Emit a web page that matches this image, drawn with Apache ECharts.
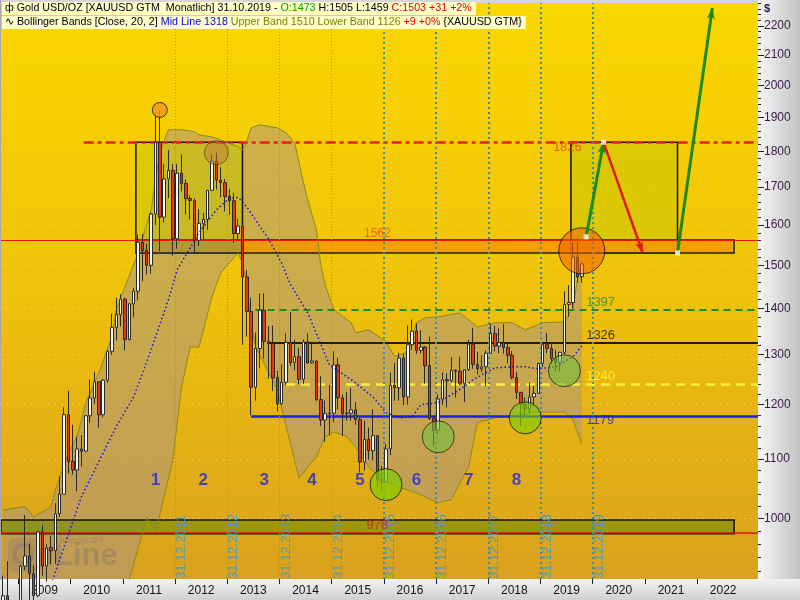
<!DOCTYPE html>
<html><head><meta charset="utf-8">
<script src="https://cdn.jsdelivr.net/npm/echarts@6/dist/echarts.min.js"></script>
<style>
html,body{margin:0;padding:0;}
#wrap{position:relative;width:800px;height:600px;background:#d6d6d6;overflow:hidden;}
#rp{position:absolute;left:758px;top:0;width:42px;height:580px;background:linear-gradient(to right,#f6f6f6,#c2c2c2);}
#bp{position:absolute;left:0;top:579px;width:800px;height:21px;background:linear-gradient(to bottom,#f2f2f2,#d0d0d0);}
#chart{position:absolute;left:0;top:0;width:800px;height:600px;}
</style></head><body>
<div id="wrap"><div id="rp"></div><div id="bp"></div><div id="chart"></div></div>
<script>
// ---------- categories ----------
const firstYear = 2008, firstMonth = 9, monthCount = 174;
const months = [];
for (let i = 0; i < monthCount; i++) {
  const t = firstYear * 12 + (firstMonth - 1) + i;
  months.push(Math.floor(t / 12) + '-' + String(t % 12 + 1).padStart(2, '0'));
}
const at = m => months.indexOf(m) + 0.5;   // month centre
const edge = m => months.indexOf(m);       // month start

// ---------- monthly OHLC  [open, close, low, high] ----------
const ohlc2008 = [[833,884,736,913],[884,718,681,934],[718,816,705,833],[816,869,741,883]];
const ohlc2009 = [[869,927,801,928],[927,942,921,1006],[942,916,866,961],[916,884,865,928],[884,979,882,981],[979,927,913,990],[927,954,904,960],[955,950,930,973],[950,1008,930,1025],[1008,1040,1003,1070],[1040,1181,1040,1195],[1181,1096,1075,1227]];
const ohlc2010 = [[1096,1081,1073,1162],[1081,1118,1045,1140],[1118,1114,1087,1143],[1114,1179,1113,1180],[1179,1213,1166,1249],[1213,1245,1201,1265],[1245,1181,1157,1245],[1181,1248,1176,1250],[1248,1307,1243,1310],[1307,1358,1300,1388],[1358,1386,1330,1424],[1386,1421,1360,1432]];
const ohlc2011 = [[1421,1332,1309,1424],[1332,1410,1329,1412],[1410,1439,1380,1447],[1439,1556,1418,1575],[1556,1536,1462,1577],[1536,1500,1478,1553],[1500,1628,1480,1632],[1628,1826,1600,1913],[1826,1620,1534,1921],[1620,1722,1606,1764],[1722,1746,1670,1804],[1746,1565,1523,1763]];
const ohlc2012 = [[1565,1738,1540,1764],[1738,1710,1688,1791],[1710,1669,1627,1721],[1669,1664,1614,1677],[1664,1561,1527,1669],[1561,1604,1547,1641],[1604,1614,1564,1631],[1614,1691,1587,1692],[1691,1772,1689,1790],[1772,1719,1693,1796],[1719,1712,1672,1755],[1712,1675,1635,1722]];
const ohlc2013 = [[1675,1663,1626,1694],[1663,1578,1555,1685],[1578,1597,1562,1616],[1597,1472,1321,1604],[1472,1393,1338,1488],[1393,1234,1180,1424],[1234,1313,1208,1347],[1313,1396,1272,1433],[1396,1328,1292,1434],[1328,1323,1251,1361],[1323,1253,1227,1362],[1253,1202,1187,1267]];
const ohlc2014 = [[1202,1244,1200,1280],[1244,1326,1238,1345],[1326,1284,1277,1392],[1284,1296,1268,1331],[1296,1250,1240,1315],[1250,1327,1240,1332],[1327,1283,1282,1345],[1283,1287,1281,1325],[1287,1210,1207,1288],[1210,1171,1160,1256],[1171,1183,1131,1208],[1183,1184,1142,1238]];
const ohlc2015 = [[1184,1279,1167,1307],[1279,1213,1191,1294],[1213,1183,1142,1220],[1183,1184,1170,1224],[1184,1190,1170,1232],[1190,1172,1162,1205],[1172,1095,1077,1175],[1095,1135,1080,1170],[1135,1115,1099,1157],[1115,1142,1098,1191],[1142,1065,1052,1142],[1065,1061,1046,1088]];
const ohlc2016 = [[1061,1118,1061,1127],[1118,1238,1107,1263],[1238,1233,1208,1283],[1233,1293,1208,1304],[1293,1215,1199,1303],[1215,1321,1200,1362],[1321,1350,1310,1375],[1350,1309,1302,1367],[1309,1316,1303,1352],[1316,1277,1241,1318],[1277,1174,1171,1338],[1174,1152,1123,1180]];
const ohlc2017 = [[1152,1211,1146,1220],[1211,1249,1200,1264],[1249,1247,1195,1262],[1247,1268,1244,1295],[1268,1266,1214,1270],[1266,1242,1238,1296],[1242,1269,1205,1270],[1269,1322,1267,1331],[1322,1280,1271,1357],[1280,1271,1260,1306],[1271,1275,1264,1299],[1275,1303,1236,1309]];
const ohlc2018 = [[1303,1345,1303,1366],[1345,1318,1307,1362],[1318,1325,1303,1356],[1325,1315,1302,1365],[1315,1299,1282,1326],[1299,1253,1250,1308],[1253,1224,1211,1265],[1224,1201,1160,1224],[1201,1192,1180,1214],[1192,1215,1182,1243],[1215,1222,1196,1237],[1222,1282,1221,1284]];
const ohlc2019 = [[1282,1321,1275,1326],[1321,1313,1303,1346],[1313,1292,1281,1324],[1292,1284,1266,1310],[1284,1305,1266,1306],[1305,1409,1301,1439],[1409,1413,1381,1453],[1413,1520,1400,1555],[1520,1472,1459,1557],[1473,1503,1459,1505]];
const candles = [].concat(ohlc2008, ohlc2009, ohlc2010, ohlc2011, ohlc2012, ohlc2013, ohlc2014, ohlc2015, ohlc2016, ohlc2017, ohlc2018, ohlc2019);

// ---------- Bollinger bands ----------
const upperMonths = ['2008-09','2009-02','2009-04','2009-08','2009-09','2009-12','2010-02','2010-04','2010-07','2010-10','2010-11','2011-01','2011-04','2011-07','2011-09','2011-11','2012-02','2012-05','2012-06','2012-09','2012-11','2013-03','2013-04','2013-05','2013-06','2013-08','2013-12','2014-02','2014-04','2014-06','2014-07','2014-09','2014-10','2014-11','2015-01','2015-05','2015-06','2015-09','2016-01','2016-03','2016-06','2016-08','2016-10','2017-01','2017-06','2017-10','2018-02','2018-06','2018-09','2019-01','2019-06','2019-08','2019-09','2019-10'];
const upperBand = [1014,1020,1003,1019,1047,1111,1140,1204,1263,1338,1397,1449,1530,1639,1796,1863,1863,1857,1848,1842,1833,1813,1804,1830,1869,1878,1869,1854,1825,1713,1665,1587,1501,1454,1397,1368,1346,1353,1327,1296,1306,1368,1379,1381,1390,1359,1368,1368,1353,1368,1370,1402,1466,1510];
const midMonths = ['2008-09','2009-03','2009-08','2010-03','2010-11','2011-03','2011-07','2011-11','2012-01','2012-06','2012-10','2013-01','2013-03','2013-05','2013-08','2013-10','2014-01','2014-03','2014-07','2014-12','2015-05','2015-10','2016-01','2016-04','2016-07','2016-09','2017-01','2017-07','2017-09','2018-02','2018-06','2018-09','2018-12','2019-04','2019-08','2019-10'];
const midBand = [800,850,900,1036,1159,1215,1310,1420,1489,1580,1639,1670,1672,1647,1596,1565,1505,1455,1390,1279,1249,1215,1185,1175,1177,1200,1204,1235,1249,1273,1275,1275,1271,1275,1296,1318];
const lowerMonths = ['2008-09','2009-06','2010-01','2010-09','2011-01','2011-02','2011-06','2011-08','2011-09','2011-12','2012-02','2012-04','2012-06','2012-09','2012-11','2013-01','2013-03','2013-04','2013-05','2013-06','2013-07','2013-12','2014-02','2014-05','2014-09','2014-11','2015-01','2015-04','2015-06','2015-09','2015-12','2016-04','2016-08','2017-01','2017-04','2017-08','2017-10','2018-02','2018-08','2018-12','2019-06','2019-08','2019-10'];
const lowerBand = [760,760,800,860,895,907,1002,979,1006,1099,1235,1316,1316,1426,1482,1506,1530,1505,1456,1363,1317,1229,1160,1067,1104,1140,1149,1140,1122,1087,1064,1052,1042,1026,1031,1087,1166,1175,1181,1186,1186,1171,1126];

// ---------- axis ticks ----------
const priceTicks = [1000,1100,1200,1300,1400,1500,1600,1700,1800,1900,2000,2100,2200];
const minorPriceTicks = [];
for (let v = 920; v <= 2280; v += 20) if (v % 100 !== 0) minorPriceTicks.push(v);
const yearLabels = ['2009','2010','2011','2012','2013','2014','2015','2016','2017','2018','2019','2020','2021','2022'];
const yearStarts = yearLabels.map(y => edge(y + '-01'));
const yearMids = yearLabels.map(y => edge(y + '-07'));
const yearEnds = ['2011','2012','2013','2014','2015','2016','2017','2018','2019'];

// ---------- annotation levels ----------
const levelTop = 1826, level1562 = 1562, levelBoxLow = 1530, level1397 = 1397, level1326 = 1326, level1240 = 1240, level1179 = 1179, level978 = 978, levelOliveTop = 998, levelOliveLow = 976;
const regionNames = ['1','2','3','4','5','6','7','8'];
const regionMonths = ['2011-08','2012-07','2013-09','2014-08','2015-07','2016-08','2017-08','2018-07'];
const regionPrice = 1064;

const END = monthCount;
const txt = (x, y, text, st) => ({ value: [x, y], label: Object.assign({ show: true, formatter: text, position: 'inside', fontFamily: 'Liberation Sans' }, st) });
const hl = (x1, x2, y, ls) => [{ coord: [x1, y], lineStyle: ls }, { coord: [x2, y], lineStyle: ls }];

const chart = echarts.init(document.getElementById('chart'), null, { renderer: 'canvas' });
const F = 'Liberation Sans';
const HF = 10.7;
const option = {
  animation: false,
  backgroundColor: 'transparent',
  title: [
    { left: 2, top: 2, padding: [1, 4, 1, 3], backgroundColor: '#FFFFC8',
      text: '{i|ф} {k|Gold USD/OZ [XAUUSD GTM  Monatlich] 31.10.2019 - }{g|O:1473 }{k|H:1505 L:1459 }{r|C:1503 +31 +2%}',
      textStyle: { fontSize: HF, fontFamily: F, fontWeight: 'normal', color: '#000',
        rich: { i: { fontSize: HF, color: '#000' }, k: { fontSize: HF, color: '#000', fontFamily: F }, g: { fontSize: HF, color: '#00A000', fontFamily: F }, r: { fontSize: HF, color: '#E80000', fontFamily: F } } } },
    { left: 2, top: 16, padding: [1, 4, 1, 3], backgroundColor: '#FFFFC8',
      text: '{i|∿} {k|Bollinger Bands [Close, 20, 2] }{b|Mid Line 1318 }{o|Upper Band 1510 Lower Band 1126 }{r|+9 +0% }{XAUUSD GTM}',
      textStyle: { fontSize: HF, fontFamily: F, fontWeight: 'normal', color: '#000',
        rich: { i: { fontSize: HF, color: '#000' }, k: { fontSize: HF, color: '#000', fontFamily: F }, b: { fontSize: HF, color: '#0000E0', fontFamily: F }, o: { fontSize: HF, color: '#808000', fontFamily: F }, r: { fontSize: HF, color: '#E80000', fontFamily: F } } } }
  ],
  grid: { left: 1, top: 3, right: 42, bottom: 21, show: true, borderWidth: 0,
    backgroundColor: new echarts.graphic.LinearGradient(0, 0, 0, 1, [
      { offset: 0, color: '#FAD700' }, { offset: 0.5, color: '#EFC20A' }, { offset: 1, color: '#D9A11E' }]) },
  graphic: [
    { type: 'text', left: 764, top: 3, z: 10, style: { text: '$', font: 'bold 11px Liberation Sans', fill: '#2A1850' } },
    { type: 'rect', left: 0, top: 0, z: 10, shape: { width: 1, height: 580 }, style: { fill: '#A8A8A8' } },
    { type: 'group', left: 8, top: 536, z: 1, children: [
      { type: 'rect', shape: { x: 0, y: 6, width: 34, height: 34, r: 7 }, style: { fill: 'rgba(105,90,60,0.28)' } },
      { type: 'text', style: { text: 'OnLine', x: 3, y: 24, font: 'bold 31px Liberation Sans', fill: 'rgba(100,85,60,0.42)', verticalAlign: 'middle' } },
      { type: 'text', style: { text: 'tradesignal®', x: 46, y: 4, font: '9px Liberation Sans', fill: 'rgba(100,85,60,0.55)' } }
    ] }
  ],
  xAxis: [
    { type: 'category', data: months, show: false, boundaryGap: true, axisLine: { onZero: false } },
    { type: 'value', min: 0, max: monthCount, position: 'bottom',
      axisLine: { show: false, onZero: false }, splitLine: { show: false },
      axisTick: { show: true, customValues: yearStarts, length: 5, lineStyle: { color: '#222' } },
      axisLabel: { customValues: yearMids, formatter: v => yearLabels[yearMids.indexOf(v)] || '', color: '#111', fontSize: 12, fontFamily: F, margin: 6 } }
  ],
  yAxis: [
    { type: 'log', logBase: 10, min: 908, max: 2282, position: 'right',
      axisLine: { show: false, onZero: false },
      axisTick: { show: true, customValues: priceTicks, length: 6, lineStyle: { color: '#222' } },
      axisLabel: { customValues: priceTicks, formatter: v => String(Math.round(v)), color: '#3A1A48', fontSize: 12, fontFamily: F, margin: 6 },
      splitLine: { show: true, lineStyle: { color: 'rgba(215,215,215,0.9)', type: [1, 5], width: 1 } } },
    { type: 'log', logBase: 10, min: 908, max: 2282, position: 'right', offset: 0,
      axisLine: { show: false, onZero: false }, axisLabel: { show: false }, splitLine: { show: false },
      axisTick: { show: true, customValues: minorPriceTicks, length: 3, lineStyle: { color: '#222' } } }
  ],
  series: [
    // Bollinger band fill
    { type: 'custom', xAxisIndex: 1, yAxisIndex: 0, z: 0, clip: true, silent: true, data: [[0, 1000]],
      renderItem: (params, api) => {
        const pts = [];
        upperMonths.forEach((m, i) => pts.push(api.coord([at(m), upperBand[i]])));
        for (let i = lowerMonths.length - 1; i >= 0; i--) pts.push(api.coord([at(lowerMonths[i]), lowerBand[i]]));
        return { type: 'polygon', shape: { points: pts }, style: { fill: 'rgba(165,148,140,0.5)' } };
      } },
    // level lines under the boxes
    { type: 'line', xAxisIndex: 1, yAxisIndex: 0, data: [], z: 1, silent: true,
      markLine: { silent: true, symbol: ['none', 'none'], z: 1, label: { show: false }, animation: false,
        data: [
          hl(0, END, level1562, { color: '#F01010', width: 1, type: 'solid' }),
          hl(0, END, level978, { color: '#D01818', width: 1.5, type: 'solid' })
        ] } },
    // boxes
    { type: 'line', xAxisIndex: 1, yAxisIndex: 0, data: [], z: 1, silent: true,
      markArea: { silent: true, z: 1, label: { show: false },
        data: [
          [{ coord: [0, levelOliveTop], itemStyle: { color: 'rgba(120,138,0,0.62)', borderColor: '#111', borderWidth: 1.5 } }, { coord: [at('2022-09'), levelOliveLow] }],
          [{ coord: [edge('2011-04'), levelTop], itemStyle: { color: 'rgba(200,198,0,0.5)', borderColor: '#111', borderWidth: 1.5 } }, { coord: [at('2013-04'), levelBoxLow] }],
          [{ coord: [edge('2019-08'), levelTop], itemStyle: { color: 'rgba(200,198,0,0.55)', borderColor: '#111', borderWidth: 1.5 } }, { coord: [at('2021-08'), levelBoxLow] }],
          [{ coord: [edge('2011-04'), level1562], itemStyle: { color: 'rgba(150,110,70,0.45)', borderColor: '#333', borderWidth: 1.5 } }, { coord: [at('2013-04'), levelBoxLow] }],
          [{ coord: [at('2013-04'), level1562], itemStyle: { color: 'rgba(246,148,0,0.78)', borderColor: '#222', borderWidth: 1.5 } }, { coord: [at('2022-09'), levelBoxLow] }]
        ] } },
    // band border lines
    { type: 'line', xAxisIndex: 1, yAxisIndex: 0, z: 1, silent: true, symbol: 'none', showSymbol: false,
      data: upperMonths.map((m, i) => [at(m), upperBand[i]]), lineStyle: { color: '#8C8A18', width: 1 } },
    { type: 'line', xAxisIndex: 1, yAxisIndex: 0, z: 1, silent: true, symbol: 'none', showSymbol: false,
      data: lowerMonths.map((m, i) => [at(m), lowerBand[i]]), lineStyle: { color: '#8C8A18', width: 1 } },
    // horizontal levels and year-end markers
    { type: 'line', xAxisIndex: 1, yAxisIndex: 0, data: [], z: 2, silent: true,
      markLine: { silent: true, symbol: ['none', 'none'], z: 2, animation: false,
        label: { show: false },
        data: [
          hl(edge('2010-04'), END, levelTop, { color: '#E8201A', width: 2.5, type: [10, 4, 4, 4] }),
          hl(at('2013-07'), END, level1397, { color: '#1F8A1F', width: 2, type: [7, 5] }),
          hl(at('2013-10'), END, level1326, { color: '#1E1E1E', width: 2, type: 'solid' }),
          hl(at('2014-02'), END, level1240, { color: '#F8F040', width: 2.5, type: [9, 6] }),
          hl(at('2013-06'), END, level1179, { color: '#1E1EE6', width: 2.5, type: 'solid' })
        ].concat(yearEnds.map(y => ({
          xAxis: edge((+y + 1) + '-01'),
          lineStyle: +y <= 2014 ? { color: '#6E9BAA', width: 1, type: [1, 2] } : { color: '#3C8CAA', width: 2, type: [2, 3] },
          label: { show: true, formatter: '31.12.' + y, position: 'insideStartBottom', distance: 0, color: '#4E9DB4', fontSize: 13, fontFamily: F }
        }))) } },
    // candles
    { type: 'candlestick', xAxisIndex: 0, yAxisIndex: 0, z: 3, data: candles, barWidth: 3, silent: true,
      itemStyle: { color: '#F6F6EE', color0: '#E8361C', borderColor: '#2A2A2A', borderColor0: '#2A2A2A', borderWidth: 1 } },
    // mid line
    { type: 'line', xAxisIndex: 1, yAxisIndex: 0, z: 4, silent: true, symbol: 'none', showSymbol: false,
      data: midMonths.map((m, i) => [at(m), midBand[i]]), lineStyle: { color: '#1010F0', width: 1.5, type: [1.5, 2.5] } },
    // circles
    { type: 'scatter', xAxisIndex: 1, yAxisIndex: 0, z: 5, silent: true,
      data: [
        { value: [at('2011-09'), 1923], symbolSize: 15, itemStyle: { color: '#F7941D', borderColor: '#111', borderWidth: 1 } },
        { value: [at('2012-10'), 1796], symbolSize: 24, itemStyle: { color: 'rgba(192,122,62,0.62)', borderColor: 'rgba(60,40,20,0.7)', borderWidth: 1 } },
        { value: [at('2019-10'), 1535], symbolSize: 46, itemStyle: { color: 'rgba(240,100,0,0.72)', borderColor: '#111', borderWidth: 1 } },
        { value: [at('2016-01'), 1056], symbolSize: 32, itemStyle: { color: 'rgba(125,205,0,0.85)', borderColor: '#111', borderWidth: 1 } },
        { value: [at('2017-01'), 1140], symbolSize: 32, itemStyle: { color: 'rgba(115,190,60,0.72)', borderColor: '#222', borderWidth: 1 } },
        { value: [at('2018-09'), 1175], symbolSize: 32, itemStyle: { color: 'rgba(125,205,0,0.8)', borderColor: '#111', borderWidth: 1 } },
        { value: [at('2019-06'), 1267], symbolSize: 32, itemStyle: { color: 'rgba(115,190,60,0.72)', borderColor: '#222', borderWidth: 1 } }
      ] },
    // arrows
    { type: 'line', xAxisIndex: 1, yAxisIndex: 0, data: [], z: 6, silent: true,
      markLine: { silent: true, symbol: ['none', 'arrow'], symbolSize: [6, 11], z: 6, animation: false, label: { show: false },
        data: [
          [{ coord: [at('2019-11'), 1570], lineStyle: { color: '#1B8A1B', width: 3, type: 'solid' } }, { coord: [at('2020-03'), levelTop], lineStyle: { color: '#1B8A1B', width: 3, type: 'solid' } }],
          [{ coord: [at('2020-03'), levelTop], lineStyle: { color: '#E01818', width: 2.5, type: 'solid' } }, { coord: [at('2020-12'), levelBoxLow], lineStyle: { color: '#E01818', width: 2.5, type: 'solid' } }],
          [{ coord: [at('2021-08'), levelBoxLow], lineStyle: { color: '#1B8A1B', width: 3, type: 'solid' } }, { coord: [at('2022-04'), 2264], lineStyle: { color: '#1B8A1B', width: 3, type: 'solid' } }]
        ] } },
    { type: 'scatter', xAxisIndex: 1, yAxisIndex: 0, z: 7, silent: true, symbol: 'rect', symbolSize: 5,
      itemStyle: { color: '#FFFFFF' },
      data: [[at('2019-11'), 1570], [at('2020-03'), levelTop], [at('2021-08'), levelBoxLow]] },
    // texts
    { type: 'scatter', xAxisIndex: 1, yAxisIndex: 0, z: 8, silent: true, symbolSize: 0,
      data: [
        txt(at('2015-11'), 1578, '1562', { color: '#E8501A', fontSize: 12, align: 'center', verticalAlign: 'middle' }),
        txt(at('2019-10'), 1810, '1826', { color: '#E8401A', fontSize: 13, align: 'right', verticalAlign: 'middle' }),
        txt(at('2015-11'), 990, '978', { color: '#D02020', fontSize: 13, align: 'center', verticalAlign: 'middle' }),
        txt(at('2019-11'), 1414, '1397', { color: '#2A8A2A', fontSize: 13, align: 'left', verticalAlign: 'middle' }),
        txt(at('2019-11'), 1340, '1326', { color: '#111', fontSize: 13, align: 'left', verticalAlign: 'middle' }),
        txt(at('2019-11'), 1255, '1240', { color: '#FFFF20', fontSize: 13, align: 'left', verticalAlign: 'middle' }),
        txt(at('2019-11'), 1170, '1179', { color: '#2A22B8', fontSize: 13, align: 'left', verticalAlign: 'middle' })
      ].concat(regionNames.map((n, i) => txt(at(regionMonths[i]), regionPrice, n, { color: '#2424DC', fontSize: 17, fontWeight: 'bold', align: 'center', verticalAlign: 'middle' }))) }
  ]
};
chart.setOption(option);
</script></body></html>
